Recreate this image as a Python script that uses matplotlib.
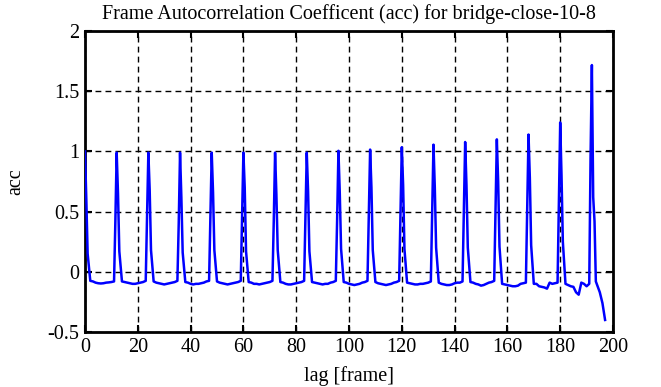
import matplotlib
matplotlib.use("Agg")
import matplotlib.pyplot as plt
import numpy as np

# autocorrelation at integer lags, one row per 12-frame period (lags 12k .. 12k+11)
acc_rows = [
    [1.00, 0.15, -0.075, -0.08, -0.09, -0.095, -0.097, -0.095, -0.09, -0.088, -0.085, -0.08],
    [0.99, 0.17, -0.08, -0.085, -0.09, -0.095, -0.10, -0.10, -0.095, -0.09, -0.085, -0.075],
    [0.99, 0.18, -0.08, -0.09, -0.095, -0.10, -0.105, -0.10, -0.095, -0.09, -0.085, -0.075],
    [0.99, 0.16, -0.085, -0.09, -0.10, -0.105, -0.10, -0.10, -0.095, -0.09, -0.08, -0.075],
    [0.99, 0.18, -0.08, -0.09, -0.095, -0.10, -0.105, -0.10, -0.095, -0.09, -0.085, -0.075],
    [0.99, 0.17, -0.085, -0.09, -0.10, -0.10, -0.105, -0.10, -0.095, -0.09, -0.085, -0.075],
    [0.99, 0.18, -0.085, -0.09, -0.10, -0.105, -0.105, -0.10, -0.095, -0.09, -0.085, -0.075],
    [0.99, 0.17, -0.085, -0.09, -0.095, -0.10, -0.105, -0.10, -0.10, -0.09, -0.085, -0.075],
    [1.005, 0.19, -0.085, -0.09, -0.10, -0.105, -0.11, -0.105, -0.10, -0.09, -0.085, -0.075],
    [1.015, 0.18, -0.085, -0.095, -0.10, -0.105, -0.11, -0.105, -0.10, -0.09, -0.085, -0.075],
    [1.035, 0.19, -0.09, -0.095, -0.10, -0.105, -0.105, -0.10, -0.10, -0.095, -0.09, -0.08],
    [1.056, 0.20, -0.09, -0.10, -0.105, -0.11, -0.11, -0.105, -0.095, -0.09, -0.09, -0.08],
    [1.078, 0.20, -0.085, -0.09, -0.10, -0.105, -0.115, -0.11, -0.10, -0.09, -0.085, -0.075],
    [1.10, 0.21, -0.10, -0.105, -0.11, -0.115, -0.12, -0.12, -0.115, -0.10, -0.095, -0.09],
    [1.14, 0.22, -0.10, -0.10, -0.12, -0.125, -0.13, -0.14, -0.09, -0.10, -0.095, -0.09],
    [1.24, 0.25, -0.10, -0.11, -0.12, -0.125, -0.17, -0.19, -0.09, -0.10, -0.12, -0.10],
    [1.717, 0.42, -0.11, -0.17, -0.26, -0.40],
]
# extra half-lag samples on the rising (12k-0.5) and falling (12k+0.5) edges of each peak
rise_half_lags = [11.5, 23.5, 35.5, 47.5, 59.5, 71.5, 83.5, 95.5, 107.5, 119.5,
                  131.5, 143.5, 155.5, 167.5, 179.5, 191.5]
rise_half_vals = [0.42, 0.45, 0.40, 0.44, 0.46, 0.42, 0.45, 0.43, 0.47, 0.48,
                  0.50, 0.50, 0.52, 0.55, 0.60, 0.95]
fall_half_lags = [0.5, 12.5, 24.5, 36.5, 48.5, 60.5, 72.5, 84.5, 96.5, 108.5,
                  120.5, 132.5, 144.5, 156.5, 168.5, 180.5, 192.5, 193.5]
fall_half_vals = [0.60, 0.65, 0.68, 0.62, 0.66, 0.70, 0.64, 0.67, 0.66, 0.70,
                  0.72, 0.70, 0.72, 0.75, 0.78, 0.80, 0.62, -0.08]

x_ticks = [0, 20, 40, 60, 80, 100, 120, 140, 160, 180, 200]
y_ticks = [-0.5, 0, 0.5, 1, 1.5, 2]
y_tick_labels = ["-0.5", "0", "0.5", "1", "1.5", "2"]

acc_int = [v for row in acc_rows for v in row]
lag_int = list(range(len(acc_int)))
lags = np.array(lag_int + rise_half_lags + fall_half_lags, dtype=float)
vals = np.array(acc_int + rise_half_vals + fall_half_vals, dtype=float)
order = np.argsort(lags, kind="stable")
lags, vals = lags[order], vals[order]

plt.rcParams["font.family"] = ["Liberation Serif", "DejaVu Serif"]
plt.rcParams["axes.unicode_minus"] = False

fig = plt.figure(figsize=(6.61, 3.87), dpi=100)
ax = fig.add_axes([85 / 661, 1 - 332 / 387, 528 / 661, 301 / 387])

ax.plot(lags, vals, color="#0000ff", lw=1.8, zorder=3)

ax.set_xlim(0, 200)
ax.set_ylim(-0.5, 2)
ax.set_xticks(x_ticks)
ax.set_xticklabels([str(t) for t in x_ticks])
ax.set_yticks(y_ticks)
ax.set_yticklabels(y_tick_labels)
ax.grid(True, color="black", linestyle=(0, (4.2, 3.0)), linewidth=1.0)
ax.tick_params(direction="in", length=5, width=1.5, top=True, right=True,
               labelsize=14.5, pad=4, colors="black")
for s in ax.spines.values():
    s.set_linewidth(2)

ax.set_title("Frame Autocorrelation Coefficent (acc) for bridge-close-10-8",
             fontsize=14.5, pad=9)
ax.set_xlabel("lag [frame]", fontsize=14.5, labelpad=7)
ax.set_ylabel("acc", fontsize=14.5, labelpad=16)

fig.savefig("out.png", dpi=100)
